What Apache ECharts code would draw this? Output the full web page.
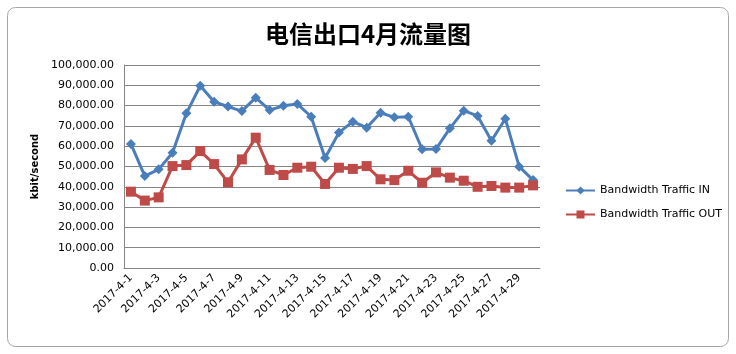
<!DOCTYPE html>
<html><head><meta charset="utf-8">
<script src="https://cdn.jsdelivr.net/npm/echarts@6/dist/echarts.min.js"></script>
<style>html,body{margin:0;padding:0;background:#fff}#c{width:736px;height:354px}</style>
</head><body><div id="c"></div>
<script>
const categories = [];
for (let d = 1; d <= 30; d++) categories.push('2017-4-' + d);
const trafficIn = [61.1,45.3,48.6,56.8,76.2,89.8,81.9,79.5,77.3,83.9,77.8,79.9,80.8,74.5,54.2,66.7,72.1,69.1,76.5,74.2,74.5,58.5,58.6,68.8,77.5,74.9,62.7,73.5,49.9,43.3].map(v => v * 1000);
const trafficOut = [37.6,33.2,34.8,50.2,50.7,57.6,51.2,42.2,53.5,64.2,48.3,45.8,49.4,49.9,41.4,49.4,48.8,50.2,43.7,43.3,47.9,42.0,47.1,44.5,43.0,40.0,40.4,39.6,39.6,40.7].map(v => v * 1000);
const seriesNames = ['Bandwidth Traffic IN', 'Bandwidth Traffic OUT'];
const titleText = '电信出口4月流量图';
const yName = 'kbit/second';

const chart = echarts.init(document.getElementById('c'));
const fmt = v => v.toLocaleString('en-US', {minimumFractionDigits: 2, maximumFractionDigits: 2});
chart.setOption({
  animation: false,
  backgroundColor: '#ffffff',
  graphic: [
    {type: 'rect', shape: {x: 7.5, y: 7.5, width: 721, height: 339, r: 8}, style: {fill: 'none', stroke: '#a6a6a6', lineWidth: 1}, z: -1}
  ],
  title: {
    text: titleText, left: 'center', top: 17,
    textStyle: {fontFamily: 'Noto Sans CJK SC', fontWeight: 'bold', fontSize: 24, color: '#000'}
  },
  legend: {
    orient: 'vertical', left: 560, top: 180, itemGap: 13,
    itemWidth: 29, itemHeight: 10,
    textStyle: {fontFamily: 'DejaVu Sans', fontSize: 11, color: '#000'},
    data: seriesNames
  },
  grid: {left: 124, right: 196, top: 65, bottom: 86},
  xAxis: {
    type: 'category', data: categories, boundaryGap: true,
    axisLine: {lineStyle: {color: '#868686'}},
    axisTick: {show: false},
    axisLabel: {interval: 1, rotate: 45, fontFamily: 'DejaVu Sans', fontSize: 11, color: '#000', margin: 8}
  },
  yAxis: {
    type: 'value', min: 0, max: 100000, interval: 10000,
    name: yName, nameLocation: 'middle', nameGap: 82, nameRotate: 90,
    nameTextStyle: {fontFamily: 'DejaVu Sans', fontWeight: 'bold', fontSize: 10, color: '#000'},
    axisLine: {show: true, lineStyle: {color: '#868686'}},
    axisTick: {show: false},
    splitLine: {lineStyle: {color: '#868686'}},
    axisLabel: {formatter: fmt, fontFamily: 'DejaVu Sans', fontSize: 11, color: '#000', margin: 10}
  },
  series: [
    {name: seriesNames[0], type: 'line', data: trafficIn, symbol: 'diamond', symbolSize: 10, showAllSymbol: true,
     lineStyle: {color: '#4a7ebb', width: 3}, itemStyle: {color: '#4a7ebb'}},
    {name: seriesNames[1], type: 'line', data: trafficOut, symbol: 'rect', symbolSize: 10, showAllSymbol: true,
     lineStyle: {color: '#be4b48', width: 3}, itemStyle: {color: '#be4b48'}}
  ]
});
</script></body></html>
